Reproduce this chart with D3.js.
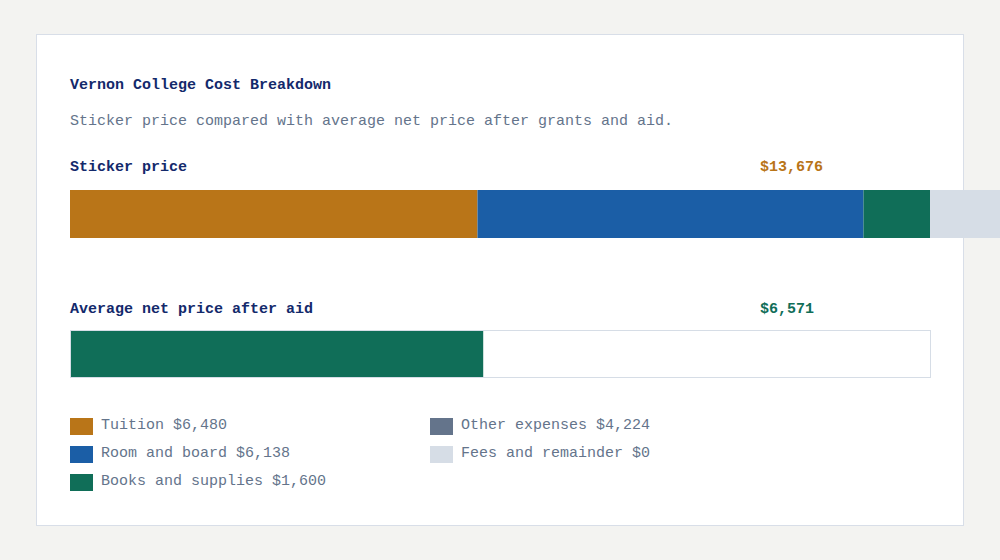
<!DOCTYPE html>
<html>
<head>
<meta charset="utf-8">
<script src="https://cdn.jsdelivr.net/npm/d3@7"></script>
<style>
  html, body { margin: 0; padding: 0; background: #f3f3f1; }
  svg { display: block; overflow: visible; }
  text { font-family: "Liberation Mono", "DejaVu Sans Mono", monospace; text-rendering: optimizeSpeed; }
</style>
</head>
<body>
<svg id="chart" width="1000" height="560"></svg>
<script>
const title = "Vernon College Cost Breakdown";
const subtitle = "Sticker price compared with average net price after grants and aid.";
const categories = ["Tuition", "Room and board", "Books and supplies", "Other expenses", "Fees and remainder"];
const costValues = [6480, 6138, 1600, 4224, 0];
const categoryColors = ["#b97518", "#1b5ea6", "#106e58", "#64748b", "#d6dde6"];
const stickerPrice = 13676;
const netPrice = 6571;
const barLabels = ["Sticker price", "Average net price after aid"];

const svg = d3.select("#chart");
const fmt = v => "$" + d3.format(",")(v);

// card
svg.append("rect")
  .attr("x", 36.5).attr("y", 34.5).attr("width", 927).attr("height", 491)
  .attr("fill", "#ffffff").attr("stroke", "#d8dee8").attr("stroke-width", 1);

svg.append("text").attr("x", 70).attr("y", 89)
  .attr("font-size", 15).attr("fill", "#13296b").attr("font-weight", 600)
  .text(title);
svg.append("text").attr("x", 70).attr("y", 125)
  .attr("font-size", 15).attr("fill", "#64748b")
  .text(subtitle);

const x = d3.scaleLinear().domain([0, stickerPrice]).range([70, 930]);

// Sticker price row
svg.append("text").attr("x", 70).attr("y", 171)
  .attr("font-size", 15).attr("fill", "#13296b").attr("font-weight", 600)
  .text(barLabels[0]);
svg.append("text").attr("x", 760).attr("y", 171)
  .attr("font-size", 15).attr("fill", "#b97518").attr("font-weight", 600)
  .text(fmt(stickerPrice));

const segs = [];
let acc = 0;
costValues.forEach((v, i) => { segs.push({ start: acc, end: acc + v, color: categoryColors[i] }); acc += v; });
const totalParts = acc;

svg.append("g").selectAll("rect").data(segs).join("rect")
  .attr("x", d => x(d.start))
  .attr("y", 190)
  .attr("width", d => Math.max(0, x(d.end) - x(d.start)))
  .attr("height", 48)
  .attr("fill", d => d.color);

// remainder overlay beyond the sticker price
svg.append("rect")
  .attr("x", x(stickerPrice)).attr("y", 190)
  .attr("width", Math.max(0, x(totalParts) - x(stickerPrice)))
  .attr("height", 48)
  .attr("fill", categoryColors[4]);

// Net price row
svg.append("text").attr("x", 70).attr("y", 313)
  .attr("font-size", 15).attr("fill", "#13296b").attr("font-weight", 600)
  .text(barLabels[1]);
svg.append("text").attr("x", 760).attr("y", 313)
  .attr("font-size", 15).attr("fill", "#106e58").attr("font-weight", 600)
  .text(fmt(netPrice));

svg.append("rect")
  .attr("x", 70.5).attr("y", 330.5).attr("width", x(stickerPrice) - x(0)).attr("height", 47)
  .attr("fill", "#ffffff").attr("stroke", "#d6dde6").attr("stroke-width", 1);
svg.append("rect")
  .attr("x", 71).attr("y", 331).attr("width", x(netPrice) - x(0) - 1).attr("height", 46)
  .attr("fill", "#106e58");

// Legend
const legend = svg.append("g").selectAll("g").data(categories).join("g")
  .attr("transform", (d, i) => `translate(${i < 3 ? 70 : 430},${418 + (i % 3) * 28})`);
legend.append("rect").attr("width", 23).attr("height", 17)
  .attr("fill", (d, i) => categoryColors[i]);
legend.append("text").attr("x", 31).attr("y", 11)
  .attr("font-size", 15).attr("fill", "#64748b")
  .text((d, i) => `${d} ${fmt(costValues[i])}`);
</script>
</body>
</html>
